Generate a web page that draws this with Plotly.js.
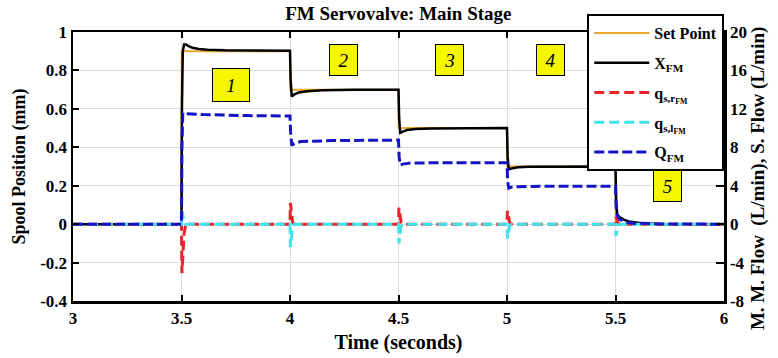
<!DOCTYPE html>
<html>
<head>
<meta charset="utf-8">
<script src="https://cdn.plot.ly/plotly-3.0.1.min.js"></script>
<style>html,body{margin:0;padding:0;background:#fff;}#chart{width:778px;height:358px;}</style>
</head>
<body>
<div id="chart"></div>
<script>
// ---- Data ----
// Set point (mm)
const tSet = [3, 3.5, 3.501, 4.0, 4.001, 4.5, 4.501, 5.0, 5.001, 5.5, 5.501, 6];
const setPoint = [0, 0, 0.9, 0.9, 0.7, 0.7, 0.5, 0.5, 0.3, 0.3, 0, 0];

// Main stage spool position X_FM (mm)
const tX = [3, 3.5, 3.502, 3.506, 3.512, 3.52, 3.535, 3.55, 3.58, 3.62, 3.7, 3.85, 4.0,
            4.003, 4.008, 4.02, 4.04, 4.08, 4.15, 4.3, 4.5,
            4.503, 4.508, 4.52, 4.54, 4.58, 4.65, 5.0,
            5.003, 5.008, 5.02, 5.05, 5.1, 5.5,
            5.503, 5.508, 5.52, 5.54, 5.57, 5.62, 5.7, 6];
const xFM = [0, 0, 0.6, 0.9, 0.935, 0.935, 0.925, 0.918, 0.912, 0.908, 0.905, 0.903, 0.902,
             0.75, 0.665, 0.675, 0.685, 0.692, 0.697, 0.699, 0.7,
             0.55, 0.475, 0.482, 0.49, 0.495, 0.498, 0.5,
             0.35, 0.285, 0.29, 0.296, 0.299, 0.3,
             0.12, 0.05, 0.035, 0.022, 0.012, 0.005, 0.001, 0];

// Right-side flow q_s,r_FM (L/min)
const tQr = [3, 3.5, 3.502, 3.506, 3.512, 3.52, 4.0, 4.002, 4.006, 4.012, 4.02,
             4.5, 4.502, 4.506, 4.512, 4.52, 5.0, 5.002, 5.006, 5.012, 5.02,
             5.5, 5.502, 5.506, 5.512, 5.52, 6];
const qsr = [0, 0, -5.1, -3.0, -1.0, 0, 0, 2.2, 1.0, 0.2, 0,
             0, 1.7, 0.8, 0.2, 0, 0, 1.4, 0.7, 0.2, 0,
             0, 0.8, 0.4, 0.1, 0, 0];

// Left-side flow q_s,l_FM (L/min)
const tQl = [3, 3.5, 3.502, 3.506, 3.512, 3.52, 4.0, 4.002, 4.006, 4.012, 4.02,
             4.5, 4.502, 4.506, 4.512, 4.52, 5.0, 5.002, 5.006, 5.012, 5.02,
             5.5, 5.502, 5.506, 5.512, 5.52, 6];
const qsl = [0, 0, 1.4, 0.8, 0.3, 0, 0, -2.4, -1.2, -0.3, 0,
             0, -2.0, -1.0, -0.2, 0, 0, -1.5, -0.8, -0.2, 0,
             0, -1.2, -0.6, -0.1, 0, 0];

// Main stage flow Q_FM (L/min)
const tQ = [3, 3.5, 3.502, 3.506, 3.52, 3.6, 3.8, 4.0,
            4.003, 4.008, 4.02, 4.05, 4.2, 4.5,
            4.503, 4.508, 4.52, 4.55, 4.7, 5.0,
            5.003, 5.008, 5.02, 5.05, 5.2, 5.5,
            5.503, 5.508, 5.52, 5.54, 5.58, 5.65, 5.75, 6];
const qFM = [0, 0, 8, 11.6, 11.5, 11.4, 11.3, 11.25,
             9.5, 8.2, 8.4, 8.6, 8.7, 8.75,
             7.0, 6.15, 6.25, 6.35, 6.4, 6.4,
             4.5, 3.75, 3.85, 3.9, 3.95, 3.95,
             1.8, 0.9, 0.5, 0.25, 0.1, 0.03, 0.005, 0];

// Axis ticks
const xTicks = [3, 3.5, 4, 4.5, 5, 5.5, 6];
const xTickText = ['3', '3.5', '4', '4.5', '5', '5.5', '6'];
const yTicks = [-0.4, -0.2, 0, 0.2, 0.4, 0.6, 0.8, 1];
const yTickText = ['-0.4', '-0.2', '0', '0.2', '0.4', '0.6', '0.8', '1'];
const y2Ticks = [-8, -4, 0, 4, 8, 12, 16, 20];
const y2TickText = ['-8', '-4', '0', '4', '8', '12', '16', '20'];

// Region labels
const regionLabels = ['1', '2', '3', '4', '5'];
const regionT = [3.73, 4.245, 4.735, 5.2, 5.74];
const regionY = [0.725, 0.855, 0.855, 0.855, 0.2];

// ---- Chart ----
const serif = '"Liberation Serif", serif';
const traces = [
  {x: tSet, y: setPoint, name: 'Set Point', mode: 'lines', legendgroup: 'a',
   line: {color: '#E8A82A', width: 2}},
  {x: tX, y: xFM, name: 'X<sub>FM</sub>', mode: 'lines', legendgroup: 'b',
   line: {color: '#000000', width: 2.5}},
  {x: tQr, y: qsr, name: 'q<sub>s,r<sub>FM</sub></sub>', mode: 'lines', yaxis: 'y2', legendgroup: 'c',
   line: {color: '#E8232B', width: 3, dash: '10px,5px'}},
  {x: tQl, y: qsl, name: 'q<sub>s,l<sub>FM</sub></sub>', mode: 'lines', yaxis: 'y2', legendgroup: 'd',
   line: {color: '#3FE3EA', width: 3, dash: '10px,5px'}},
  {x: tQ, y: qFM, name: 'Q<sub>FM</sub>', mode: 'lines', yaxis: 'y2', legendgroup: 'e',
   line: {color: '#1414C4', width: 3, dash: '10px,4px'}}
];

const annotations = regionLabels.map((s, i) => ({
  x: regionT[i], y: regionY[i], xref: 'x', yref: 'y',
  text: '<i>' + s + '</i>', showarrow: false,
  font: {family: serif, size: 19, color: '#000', weight: 'normal'},
  bgcolor: '#F6F600', bordercolor: '#000', borderwidth: 1,
  width: i === 0 ? 34 : 25, height: i === 0 ? 30 : 28
}));

const layout = {
  width: 778, height: 358,
  margin: {l: 73, r: 54, t: 32, b: 57},
  paper_bgcolor: '#fff', plot_bgcolor: '#fff',
  font: {family: serif, size: 16, color: '#000', weight: 'bold'},
  title: {text: 'FM Servovalve: Main Stage', font: {family: serif, size: 19, weight: 'bold'},
          x: 0.512, xanchor: 'center', y: 0.964, yanchor: 'middle'},
  showlegend: true,
  legend: {x: 0.79, y: 1.067, xanchor: 'left', yanchor: 'top',
           bgcolor: '#fff', bordercolor: '#000', borderwidth: 2,
           font: {family: serif, size: 16, weight: 'bold'},
           tracegroupgap: 6, itemwidth: 55},
  xaxis: {range: [3, 6], tickvals: xTicks, ticktext: xTickText,
          showline: true, linecolor: '#000', linewidth: 2.5, mirror: 'ticks',
          ticks: 'inside', ticklen: 6, tickwidth: 2, tickcolor: '#000',
          showgrid: true, gridcolor: '#DCDCDC', gridwidth: 1, zeroline: false,
          tickfont: {family: serif, size: 17, weight: 'bold'},
          title: {text: 'Time (seconds)', font: {family: serif, size: 20, weight: 'bold'}, standoff: 8},
          automargin: false},
  yaxis: {range: [-0.4, 1], tickvals: yTicks, ticktext: yTickText,
          showline: true, linecolor: '#000', linewidth: 2.5,
          ticks: 'inside', ticklen: 6, tickwidth: 2, tickcolor: '#000',
          showgrid: true, gridcolor: '#DCDCDC', gridwidth: 1, zeroline: false,
          tickfont: {family: serif, size: 17, weight: 'bold'},
          title: {text: 'Spool Position (mm)', font: {family: serif, size: 18, weight: 'bold'}, standoff: 10},
          automargin: false},
  yaxis2: {range: [-8, 20], tickvals: y2Ticks, ticktext: y2TickText,
           overlaying: 'y', side: 'right',
           showline: true, linecolor: '#000', linewidth: 2.5,
           ticks: 'inside', ticklen: 8, tickwidth: 2, tickcolor: '#000',
           showgrid: false, zeroline: false,
           tickfont: {family: serif, size: 17, weight: 'bold'},
           title: {text: 'M. M. Flow  (L/min), S. Flow (L/min)&nbsp;&nbsp;&nbsp;&nbsp;&nbsp;',
                   font: {family: serif, size: 19, weight: 'bold'}, standoff: 4},
           automargin: false},
  annotations: annotations
};

Plotly.newPlot('chart', traces, layout, {displayModeBar: false, staticPlot: true});
</script>
</body>
</html>
